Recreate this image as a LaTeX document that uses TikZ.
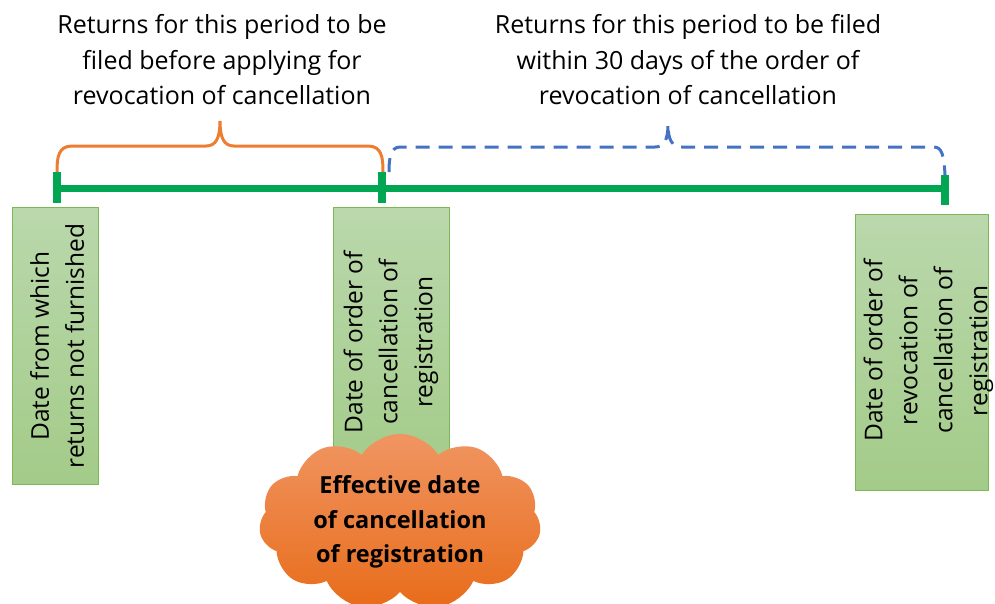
\documentclass[tikz,border=0pt]{standalone}
\usepackage{fontspec}
\setmainfont{Open Sans}
\usetikzlibrary{shapes.symbols}

\definecolor{linegreen}{HTML}{00A651}
\definecolor{braceorange}{HTML}{ED7D31}
\definecolor{braceblue}{HTML}{4472C4}
\definecolor{boxtop}{HTML}{BAD8AC}
\definecolor{boxbottom}{HTML}{A3CB88}
\definecolor{boxedge}{HTML}{7DB856}
\definecolor{cloudtop}{HTML}{F09562}
\definecolor{cloudbottom}{HTML}{E86C1A}

\tikzset{
  timeline/.style={draw=linegreen, line width=7pt},
  tickmark/.style={draw=linegreen, line width=8pt},
  datebox/.style={draw=boxedge, line width=1pt, top color=boxtop, bottom color=boxbottom, anchor=north},
  datetext/.style={rotate=90, align=center, font=\fontsize{24.5}{35}\selectfont, inner sep=0pt},
  periodtext/.style={align=center, font=\fontsize{25}{35.5}\selectfont, inner sep=0pt},
}

\begin{document}
\begin{tikzpicture}[x=1pt,y=-1pt]
    \clip (0,0) rectangle (995,603);

    %timeline
    \coordinate (t0) at (57,188);
    \coordinate (t1) at (382,188);
    \coordinate (t2) at (945,188);
    \draw[timeline] (t0) -- (t2);
    \draw[tickmark] ([yshift=16pt]t0) -- ([yshift=-15pt]t0);
    \draw[tickmark] ([yshift=16pt]t1) -- ([yshift=-15pt]t1);
    \draw[tickmark] ([yshift=13pt]t2) -- ([yshift=-17pt]t2);

    %braces
    \draw[braceorange, line width=3pt]
        ([yshift=16pt]t0) .. controls (57,158) and (58,146) .. (72,146) -- (206,146)
        .. controls (216,146) and (220,138) .. (220,121)
        .. controls (220,138) and (224,146) .. (234,146) -- (368,146)
        .. controls (382,146) and (383,158) .. ([yshift=16pt,xshift=1pt]t1);
    \draw[braceblue, line width=3pt, dash pattern=on 14pt off 9pt]
        (389,172) .. controls (389,160) and (390,147) .. (400,147) -- (655,147)
        .. controls (664,147) and (668,140) .. (668,124)
        .. controls (668,140) and (672,147) .. (682,147) -- (934,147)
        .. controls (942,147) and (944,156) .. ([yshift=13pt]t2);

    %period labels
    \node[periodtext] (p0) at (222,60) {Returns for this period to be\\filed before applying for\\revocation of cancellation};
    \node[periodtext] (p1) at (688,60) {Returns for this period to be filed\\within 30 days of the order of\\revocation of cancellation};

    %date boxes
    \node[datebox, minimum width=86pt, minimum height=277pt] (d0) at (55,207) {};
    \node[datetext] at ([xshift=2pt]d0.center) {Date from which\\returns not furnished};
    \node[datebox, minimum width=116pt, minimum height=277pt] (d1) at (391,207) {};
    \node[datetext] at ([yshift=4pt]d1.center) {Date of order of\\cancellation of\\registration};
    \node[datebox, minimum width=133pt, minimum height=276pt] (d2) at (921.5,214) {};
    \node[datetext] at ([xshift=7pt,yshift=2pt]d2.center) {Date of order of\\revocation of\\cancellation of\\registration};

    %effective date
    \node[cloud, cloud puffs=11, cloud puff arc=115, aspect=1.7, minimum width=282pt, minimum height=165pt,
          top color=cloudtop, bottom color=cloudbottom, draw=none, align=center, inner sep=0pt,
          font=\bfseries\fontsize{23.5}{34.5}\selectfont] (eff) at (400,522)
        {Effective date\\of cancellation\\of registration};
\end{tikzpicture}
\end{document}
